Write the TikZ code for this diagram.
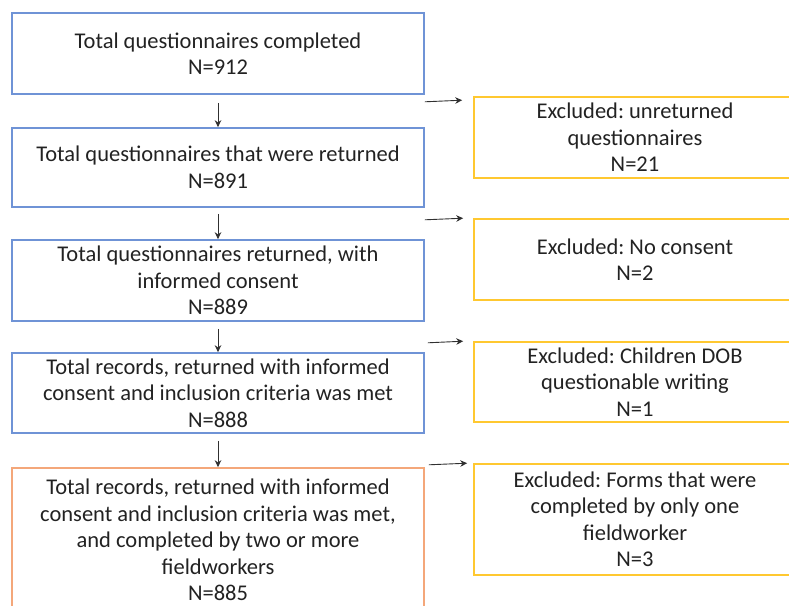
\documentclass[tikz,border=0pt]{standalone}
\usepackage{fontspec}
\setmainfont{Carlito}
\frenchspacing
\usetikzlibrary{arrows.meta,calc}
\definecolor{stageblue}{HTML}{6F93D6}
\definecolor{finalorange}{HTML}{F4A77A}
\definecolor{exclgold}{HTML}{FFC830}
\definecolor{inktext}{HTML}{222222}
\definecolor{arrowgray}{HTML}{303030}
\begin{document}
\begin{tikzpicture}[x=1pt,y=-1pt,
  box/.style={draw, line width=1.6pt, minimum width=412pt, align=center,
    text=inktext, font=\fontsize{22.5}{26.5}\selectfont, inner sep=0pt},
  stage/.style={box, draw=stageblue},
  final/.style={box, draw=finalorange},
  excl/.style={box, draw=exclgold, minimum width=322pt},
  arr/.style={draw=arrowgray, line width=0.9pt, -{Stealth[length=7pt,width=6.5pt]}}]
\useasboundingbox (0,0) rectangle (789,605);

% main flow
\node[stage, minimum height=81pt] (b1) at (218,53.5)
  {Total questionnaires completed\\N=912};
\node[stage, minimum height=79pt] (b2) at (218,167.5)
  {Total questionnaires that were returned\\N=891};
\node[stage, minimum height=81pt] (b3) at (218,280.5)
  {Total questionnaires returned, with\\informed consent\\N=889};
\node[stage, minimum height=80pt] (b4) at (218,393)
  {Total records, returned with informed\\consent and inclusion criteria was met\\N=888};
\node[final, minimum height=144pt] (b5) at (218,540)
  {Total records, returned with informed\\consent and inclusion criteria was met,\\and completed by two or more\\fieldworkers\\N=885};

% exclusions
\node[excl, minimum height=81pt] (e1) at (635,137.5)
  {Excluded: unreturned\\questionnaires\\N=21};
\node[excl, minimum height=81pt] (e2) at (635,259.5)
  {Excluded: No consent\\N=2};
\node[excl, minimum height=80pt] (e3) at (635,382)
  {Excluded: Children DOB\\questionable writing\\N=1};
\node[excl, minimum height=111pt] (e4) at (635,519.5)
  {Excluded: Forms that were\\completed by only one\\fieldworker\\N=3};

% vertical arrows
\draw[arr, shorten <=8pt] (b1) -- (b2);
\draw[arr, shorten <=6pt] (b2) -- (b3);
\draw[arr, shorten <=7pt] (b3) -- (b4);
\draw[arr, shorten <=7pt] (b4) -- (b5);

% side arrows
\coordinate (s1) at ($(b1.south east)+(0,7)$);
\coordinate (t1) at ($(e1.north west)+(-11,4)$);
\coordinate (s2) at ($(b2.south east)+(0,12)$);
\coordinate (t2) at ($(e2.north west)+(-10,0)$);
\coordinate (s3) at ($(b3.south east)+(3,21)$);
\coordinate (t3) at ($(e3.north west)+(-10,0)$);
\coordinate (s4) at ($(b4.south east)+(4,31)$);
\coordinate (t4) at ($(e4.north west)+(-6,0)$);
\draw[arr] (s1) -- (t1);
\draw[arr] (s2) -- (t2);
\draw[arr] (s3) -- (t3);
\draw[arr] (s4) -- (t4);
\end{tikzpicture}
\end{document}
